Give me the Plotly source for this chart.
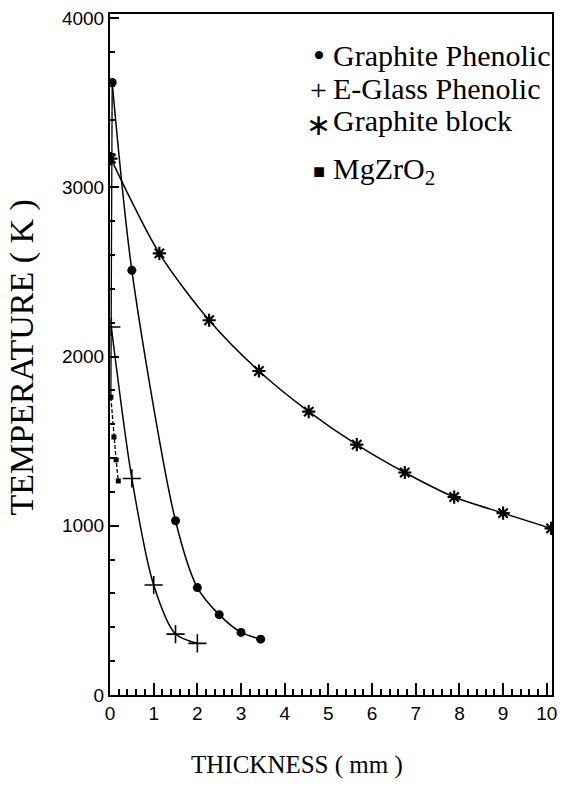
import plotly.graph_objects as go

# ---- data ----
gp_x = [0.05, 0.5, 1.5, 2.0, 2.5, 3.0, 3.45]          # Graphite Phenolic
gp_y = [3620, 2510, 1030, 635, 475, 370, 330]
eg_x = [0.03, 0.5, 1.0, 1.5, 2.0]                      # E-Glass Phenolic
eg_y = [2175, 1280, 650, 360, 305]
gb_x = [0.02, 1.13, 2.27, 3.41, 4.55, 5.65, 6.75, 7.88, 9.0, 10.1]   # Graphite block
gb_y = [3170, 2610, 2215, 1915, 1675, 1480, 1315, 1170, 1075, 985]
mg_x = [0.02, 0.09, 0.14, 0.19]                        # MgZrO2
mg_y = [1760, 1525, 1390, 1265]

x_ticks = list(range(0, 11))
y_ticks = [0, 1000, 2000, 3000, 4000]

legend_symbols = ["•", "+", "∗", "■"]
legend_labels = ["Graphite Phenolic", "E-Glass Phenolic", "Graphite block", "MgZrO<sub>2</sub>"]

W, H = 565, 790
L, R, T, B = 110, 8, 13, 95

fig = go.Figure()
line = dict(color="black", width=1.5, shape="spline", smoothing=0.8)

# connecting line near the surface
fig.add_trace(go.Scatter(x=[gp_x[0], eg_x[0], mg_x[0]], y=[gp_y[0], eg_y[0], mg_y[0]],
                         mode="lines", line=dict(color="black", width=1.3), hoverinfo="skip"))
fig.add_trace(go.Scatter(x=gp_x, y=gp_y, mode="lines+markers", name="Graphite Phenolic",
                         line=line, marker=dict(symbol="circle", size=9, color="black")))
fig.add_trace(go.Scatter(x=eg_x, y=eg_y, mode="lines+markers", name="E-Glass Phenolic",
                         line=line, marker=dict(symbol="cross-thin", size=13,
                                                line=dict(color="black", width=1.6))))
fig.add_trace(go.Scatter(x=gb_x, y=gb_y, mode="lines+markers", name="Graphite block",
                         line=line, marker=dict(symbol="asterisk", size=11,
                                                line=dict(color="black", width=2.2))))
fig.add_trace(go.Scatter(x=mg_x, y=mg_y, mode="lines+markers", name="MgZrO2",
                         line=dict(color="black", width=1.3, dash="4px,2px"),
                         marker=dict(symbol="square", size=5, color="black")))

fig.update_layout(
    xaxis=dict(range=[0, 10.12], tickmode="array", tickvals=x_ticks,
               ticks="inside", ticklen=12, tickwidth=2, tickcolor="#000000",
               showgrid=False, zeroline=False, showline=True, linecolor="#000000",
               linewidth=2, mirror=True, layer="above traces",
               tickfont=dict(family="Liberation Sans", size=19, color="black"),
               minor=dict(tickmode="linear", tick0=0, dtick=0.2, ticks="inside",
                          ticklen=6, tickcolor="#000000", tickwidth=1.5, showgrid=False)),
    yaxis=dict(range=[0, 4025], tickmode="array", tickvals=y_ticks,
               ticks="inside", ticklen=9, tickwidth=2, tickcolor="#000000",
               showgrid=False, zeroline=False, showline=True, linecolor="#000000",
               linewidth=2, mirror=True, layer="above traces",
               tickfont=dict(family="Liberation Sans", size=19, color="black"),
               minor=dict(tickmode="linear", tick0=0, dtick=200, ticks="inside",
                          ticklen=5, tickcolor="#000000", tickwidth=1.5, showgrid=False)),
)

pw, ph = W - L - R, H - T - B
def px(xp):
    return (xp - L) / pw
def py(yp):
    return 1 - (yp - T) / ph

annos = []
row_y = [55, 88, 120, 170]
sym_sizes = [34, 30, 30, 20]
sym_dy = [0, 1, 4, 0]
for s, lab, yy, ss, dy in zip(legend_symbols, legend_labels, row_y, sym_sizes, sym_dy):
    annos.append(dict(x=px(321), y=py(yy + dy), xref="paper", yref="paper", text=s,
                      showarrow=False, xanchor="center", yanchor="middle",
                      font=dict(family="Liberation Serif", size=ss, color="black")))
    annos.append(dict(x=px(333), y=py(yy), xref="paper", yref="paper", text=lab,
                      showarrow=False, xanchor="left", yanchor="middle",
                      font=dict(family="Liberation Serif", size=30, color="black")))

annos.append(dict(x=px(299), y=py(765), xref="paper", yref="paper", text="THICKNESS ( mm )",
                  showarrow=False, xanchor="center", yanchor="middle",
                  font=dict(family="Liberation Serif", size=25, color="black")))
annos.append(dict(x=px(22), y=py(357), xref="paper", yref="paper", text="TEMPERATURE ( K )",
                  showarrow=False, xanchor="center", yanchor="middle", textangle=-90,
                  font=dict(family="Liberation Serif", size=34, color="black")))

fig.update_layout(width=W, height=H, margin=dict(l=L, r=R, t=T, b=B),
                  paper_bgcolor="white", plot_bgcolor="white", showlegend=False,
                  annotations=annos)

fig.write_html("out.html")
